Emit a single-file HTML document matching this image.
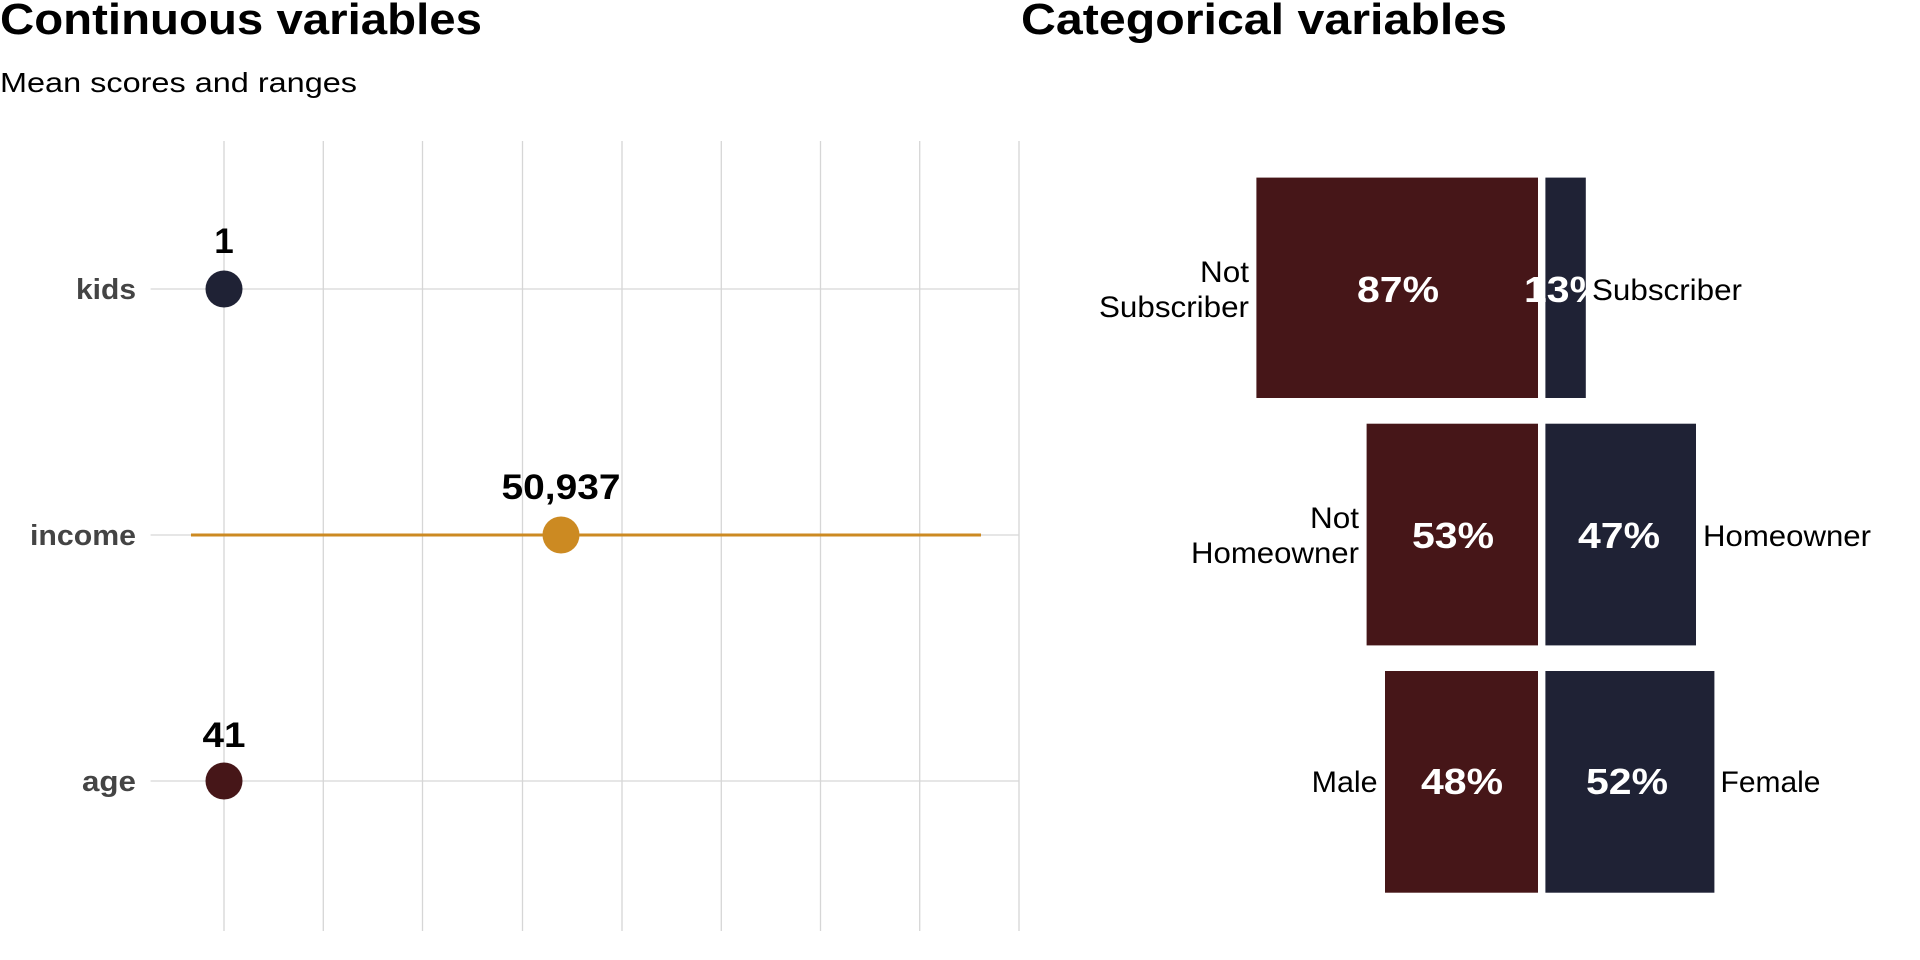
<!DOCTYPE html>
<html><head><meta charset="utf-8"><style>
html,body{margin:0;padding:0;background:#fff;width:1920px;height:960px;overflow:hidden}
svg{display:block;font-family:"Liberation Sans",sans-serif}
</style></head><body>
<svg width="1920" height="960" viewBox="0 0 1920 960" xmlns="http://www.w3.org/2000/svg">
<text x="0" y="34" font-size="44" font-weight="bold" fill="#000" textLength="482" lengthAdjust="spacingAndGlyphs">Continuous variables</text>
<text x="0" y="92" font-size="28" fill="#000" textLength="357" lengthAdjust="spacingAndGlyphs">Mean scores and ranges</text>
<text x="1021" y="34" font-size="44" font-weight="bold" fill="#000" textLength="486" lengthAdjust="spacingAndGlyphs">Categorical variables</text>
<g stroke="#d6d6d6" stroke-width="1.3">
<line x1="224" y1="141" x2="224" y2="931"/>
<line x1="323.3" y1="141" x2="323.3" y2="931"/>
<line x1="422.5" y1="141" x2="422.5" y2="931"/>
<line x1="522.5" y1="141" x2="522.5" y2="931"/>
<line x1="622" y1="141" x2="622" y2="931"/>
<line x1="721.3" y1="141" x2="721.3" y2="931"/>
<line x1="820.5" y1="141" x2="820.5" y2="931"/>
<line x1="919.7" y1="141" x2="919.7" y2="931"/>
<line x1="1019" y1="141" x2="1019" y2="931"/>
<line x1="150.6" y1="289" x2="1019" y2="289"/>
<line x1="150.6" y1="535" x2="1019" y2="535"/>
<line x1="150.6" y1="781" x2="1019" y2="781"/>
</g>
<g font-size="29" font-weight="bold" fill="#444" text-anchor="end">
<text x="136" y="299" textLength="60" lengthAdjust="spacingAndGlyphs">kids</text>
<text x="136" y="545" textLength="106" lengthAdjust="spacingAndGlyphs">income</text>
<text x="136" y="791" textLength="54" lengthAdjust="spacingAndGlyphs">age</text>
</g>
<line x1="191" y1="535" x2="981" y2="535" stroke="#cc8a22" stroke-width="3"/>
<circle cx="224" cy="289" r="18.5" fill="#1f2235"/>
<circle cx="561" cy="535" r="18.5" fill="#cc8a22"/>
<circle cx="224" cy="781" r="18.5" fill="#461618"/>
<g font-size="35" font-weight="bold" fill="#000" text-anchor="middle">
<text x="224" y="253">1</text>
<text x="561" y="499" textLength="119" lengthAdjust="spacingAndGlyphs">50,937</text>
<text x="224" y="747" textLength="43" lengthAdjust="spacingAndGlyphs">41</text>
</g>
<g fill="#461618">
<rect x="1256.4" y="177.6" width="281.6" height="220.4"/>
<rect x="1366.6" y="423.7" width="171.4" height="221.7"/>
<rect x="1385" y="671" width="153" height="221.7"/>
</g>
<g fill="#1f2235">
<rect x="1545.4" y="177.6" width="40.4" height="220.4"/>
<rect x="1545.4" y="423.7" width="150.6" height="221.7"/>
<rect x="1545.4" y="671" width="169" height="221.7"/>
</g>
<g font-size="36" font-weight="bold" fill="#fff" text-anchor="middle">
<text x="1398" y="302" textLength="82" lengthAdjust="spacingAndGlyphs">87%</text>
<text x="1565" y="302" textLength="82" lengthAdjust="spacingAndGlyphs">13%</text>
<text x="1453" y="548" textLength="82" lengthAdjust="spacingAndGlyphs">53%</text>
<text x="1619" y="548" textLength="82" lengthAdjust="spacingAndGlyphs">47%</text>
<text x="1462" y="794" textLength="82" lengthAdjust="spacingAndGlyphs">48%</text>
<text x="1627" y="794" textLength="82" lengthAdjust="spacingAndGlyphs">52%</text>
</g>
<g font-size="30" fill="#000">
<text x="1249" y="282" text-anchor="end" textLength="49" lengthAdjust="spacingAndGlyphs">Not</text>
<text x="1249" y="317" text-anchor="end" textLength="150" lengthAdjust="spacingAndGlyphs">Subscriber</text>
<text x="1592" y="300" textLength="150" lengthAdjust="spacingAndGlyphs">Subscriber</text>
<text x="1359" y="528" text-anchor="end" textLength="49" lengthAdjust="spacingAndGlyphs">Not</text>
<text x="1359" y="563" text-anchor="end" textLength="168" lengthAdjust="spacingAndGlyphs">Homeowner</text>
<text x="1703" y="546" textLength="168" lengthAdjust="spacingAndGlyphs">Homeowner</text>
<text x="1377.6" y="792" text-anchor="end" textLength="66" lengthAdjust="spacingAndGlyphs">Male</text>
<text x="1720.5" y="792" textLength="100" lengthAdjust="spacingAndGlyphs">Female</text>
</g>
</svg>
</body></html>
